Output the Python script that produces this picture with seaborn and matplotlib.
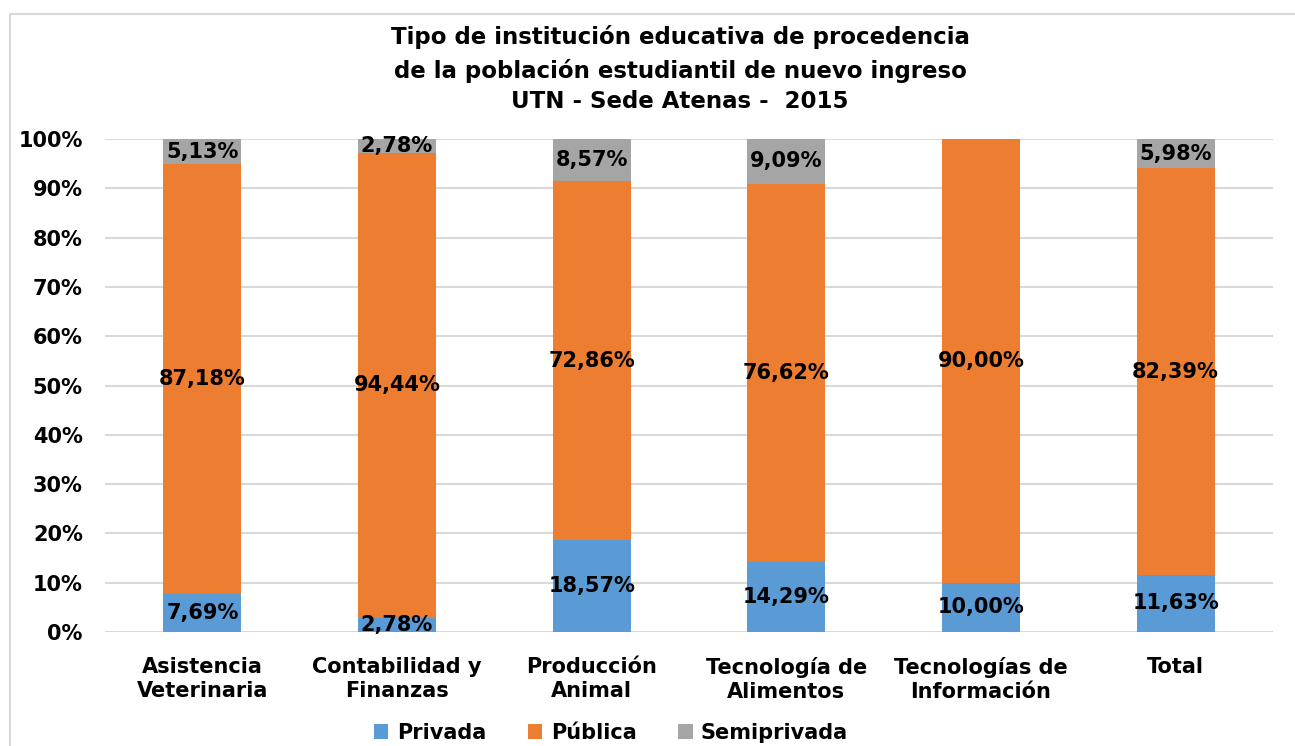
import matplotlib
matplotlib.use("Agg")
import matplotlib.pyplot as plt
import seaborn as sns
import numpy as np
import pandas as pd
from matplotlib.patches import Rectangle, Patch

categories = ["Asistencia\nVeterinaria", "Contabilidad y\nFinanzas", "Producción\nAnimal",
              "Tecnología de\nAlimentos", "Tecnologías de\nInformación", "Total"]
privada = [7.69, 2.78, 18.57, 14.29, 10.00, 11.63]
publica = [87.18, 94.44, 72.86, 76.62, 90.00, 82.39]
semiprivada = [5.13, 2.78, 8.57, 9.09, 0.0, 5.98]
series_names = ["Privada", "Pública", "Semiprivada"]
colors = ["#5B9BD5", "#ED7D31", "#A5A5A5"]
yticks = [0, 10, 20, 30, 40, 50, 60, 70, 80, 90, 100]

sns.set_theme(style="white")
FONT = ["DejaVu Sans"]
plt.rcParams["font.family"] = FONT
plt.rcParams["text.color"] = "black"
plt.rcParams["xtick.color"] = "black"
plt.rcParams["ytick.color"] = "black"

fig = plt.figure(figsize=(12.95, 7.46), dpi=100)
ax = fig.add_axes([105/1295, 1-632/746, (1273-105)/1295, (632-139)/746])

p = np.array(privada); u = np.array(publica); s = np.array(semiprivada)
cum1 = p
cum2 = p + u
cum3 = p + u + s
df = pd.DataFrame({"cat": categories, "c1": cum1, "c2": cum2, "c3": cum3})

width = 0.4
for col, c in zip(["c3", "c2", "c1"], [colors[2], colors[1], colors[0]]):
    sns.barplot(data=df, x="cat", y=col, color=c, saturation=1, width=width, ax=ax,
                zorder=2, linewidth=0, edgecolor="none")

ax.set_xlim(-0.5, 5.5)
ax.set_ylim(0, 100)
ax.set_yticks(yticks)
ax.set_yticklabels([f"{t}%" for t in yticks], fontsize=15, fontweight="bold", color="black")
ax.set_xticks(range(len(categories)))
ax.set_xticklabels(categories, fontsize=15, fontweight="bold", linespacing=1.25, color="black")
ax.tick_params(axis="x", pad=18, length=0)
ax.tick_params(axis="y", pad=16, length=0)
ax.set_xlabel(""); ax.set_ylabel("")
for sp in ax.spines.values():
    sp.set_visible(False)
ax.yaxis.grid(True, color="#D9D9D9", linewidth=1.5, zorder=0)
ax.set_axisbelow(True)

def fmt(v):
    return f"{v:.2f}%".replace(".", ",")

for i in range(len(categories)):
    bottoms = [0, cum1[i], cum2[i]]
    vals = [p[i], u[i], s[i]]
    for b, v in zip(bottoms, vals):
        if v > 0:
            ax.text(i, b + v/2, fmt(v), ha="center", va="center", fontsize=15,
                    fontweight="bold", color="black", zorder=5)

for y, line in zip([37, 71, 102], ["Tipo de institución educativa de procedencia",
                                    "de la población estudiantil de nuevo ingreso",
                                    "UTN - Sede Atenas -  2015"]):
    fig.text(680/1295, 1-y/746, line, ha="center", va="center",
             fontsize=16.5, fontweight="bold", color="black")

handles = [Patch(facecolor=c, edgecolor="none") for c in colors]
fig.legend(handles, series_names, loc="center", bbox_to_anchor=(611/1295, 1-733/746), ncol=3,
           frameon=False, prop={"size": 15, "weight": "bold"}, handlelength=0.7, handleheight=0.7,
           handletextpad=0.4, columnspacing=2.0, labelcolor="black")

fig.patches.append(Rectangle((10/1295, -0.1), 1.2, 1-14/746+0.1, transform=fig.transFigure,
                             fill=False, edgecolor="#D9D9D9", linewidth=1.5))

fig.savefig("out.png", dpi=100)
